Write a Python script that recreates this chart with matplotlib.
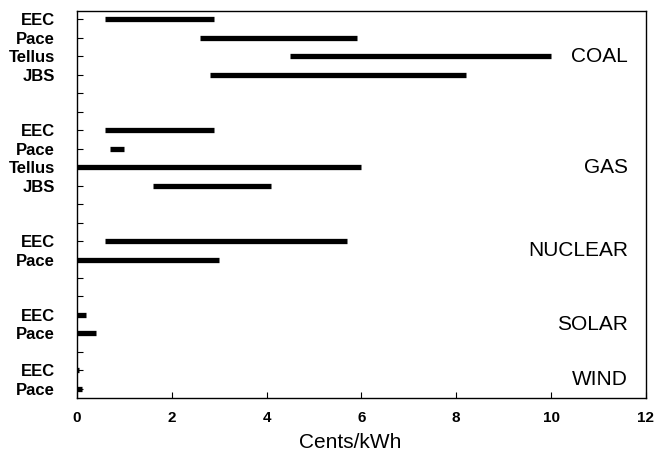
"""
Cost ranges of electricity by source (cents/kWh), as estimated by four studies.
Horizontal range bars, one row per study, grouped by fuel.
"""

import matplotlib

matplotlib.use("Agg")
import matplotlib.pyplot as plt

plt.rcParams["font.family"] = ["Liberation Sans", "DejaVu Sans"]

# ── data ─────────────────────────────────────────────────────────────────────
sources = ["COAL", "GAS", "NUCLEAR", "SOLAR", "WIND"]
studies = {
    "COAL": ["EEC", "Pace", "Tellus", "JBS"],
    "GAS": ["EEC", "Pace", "Tellus", "JBS"],
    "NUCLEAR": ["EEC", "Pace"],
    "SOLAR": ["EEC", "Pace"],
    "WIND": ["EEC", "Pace"],
}
low = {
    "COAL": [0.6, 2.6, 4.5, 2.8],
    "GAS": [0.6, 0.7, 0.0, 1.6],
    "NUCLEAR": [0.6, 0.0],
    "SOLAR": [0.0, 0.0],
    "WIND": [0.0, 0.0],
}
high = {
    "COAL": [2.9, 5.9, 10.0, 8.2],
    "GAS": [2.9, 1.0, 6.0, 4.1],
    "NUCLEAR": [5.7, 3.0],
    "SOLAR": [0.2, 0.4],
    "WIND": [0.04, 0.1],
}
# empty rows left between groups
gaps = {"COAL": 2, "GAS": 2, "NUCLEAR": 2, "SOLAR": 1, "WIND": 0}

# ── figure ───────────────────────────────────────────────────────────────────
fig = plt.figure(figsize=(6.57, 4.54), dpi=100)
ax = fig.add_axes([0.117, 0.123, 0.866, 0.853])

row = 0
ticks, labels = [], []
for src in sources:
    rows = []
    for name, lo, hi in zip(studies[src], low[src], high[src]):
        ax.hlines(row, lo, hi, color="black", lw=3.8, capstyle="butt")
        ticks.append(row)
        labels.append(name)
        rows.append(row)
        row += 1
    mid = (rows[0] + rows[-1]) / 2 if len(rows) == 2 else rows[2]
    ax.text(11.62, mid, src, ha="right", va="center", fontsize=15)
    for _ in range(gaps[src]):
        ticks.append(row)
        labels.append("")
        row += 1

ax.set_ylim(row - 0.5, -0.45)
ax.set_xlim(0, 12)
ax.set_yticks(ticks)
ax.set_yticklabels(labels, fontsize=12, fontweight="bold")
ax.set_xticks(range(0, 13, 2))
ax.set_xticklabels([str(v) for v in range(0, 13, 2)], fontsize=11, fontweight="bold")
ax.tick_params(axis="x", direction="in", length=4, pad=9)
ax.tick_params(axis="y", direction="in", length=4, pad=16)
ax.set_xlabel("Cents/kWh", fontsize=15)
ax.xaxis.set_label_coords(0.48, -0.09, transform=ax.transAxes)
ax.xaxis.label.set_va("top")
for sp in ax.spines.values():
    sp.set_linewidth(1.0)

fig.savefig("out.png", dpi=100)
